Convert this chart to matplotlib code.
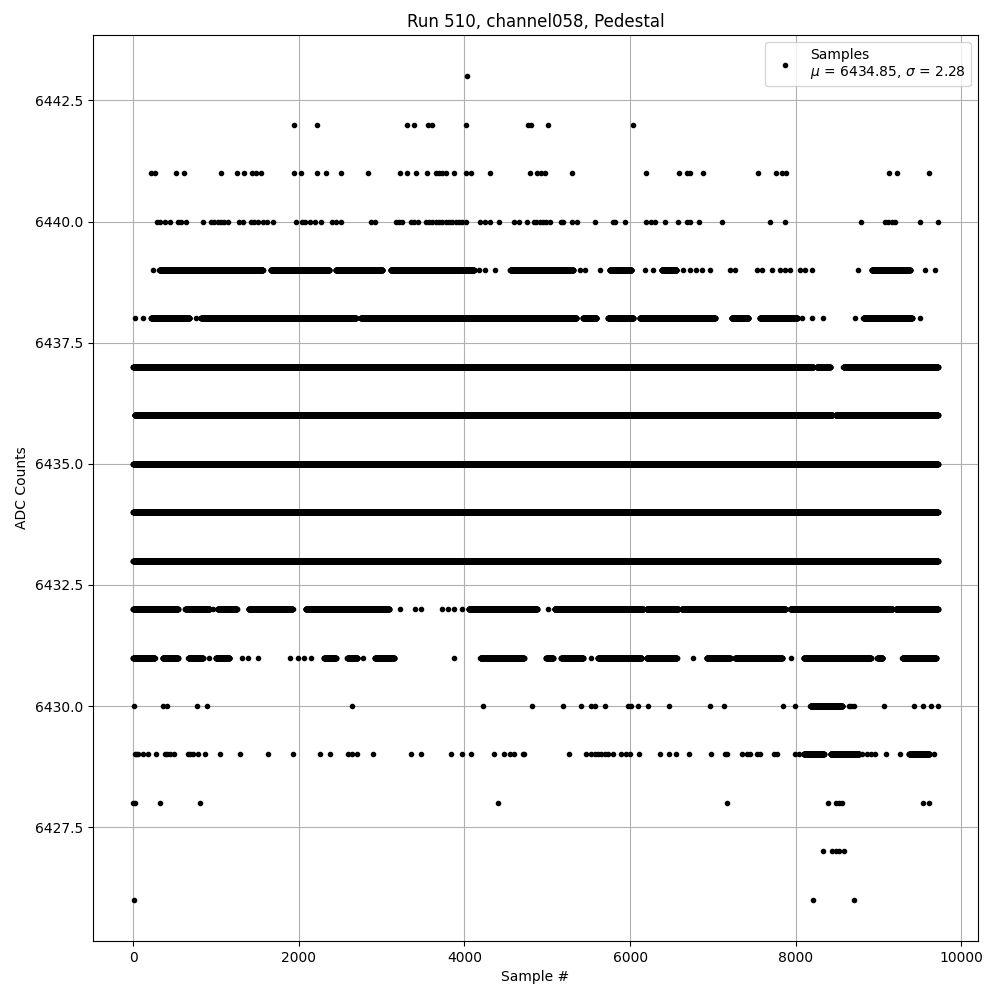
import numpy as np
import matplotlib
matplotlib.use("Agg")
import matplotlib.pyplot as plt

TITLE = "Run 510, channel058, Pedestal"
MU = 6434.85
SIGMA = 2.28
LAST_SAMPLE = 9715

# isolated samples per ADC level (sample numbers)
pts_6443 = [4025]
pts_6442 = [1936, 2217, 3309, 3390, 3562, 3610, 4024, 4767, 4800, 5009, 6036]
pts_6441 = [217, 265, 518, 618, 1060, 1249, 1341, 1434, 1482, 1542, 1936, 2024,
            2217, 2325, 2506, 2839, 3217, 3301, 3418, 3550, 3651, 3691, 3731,
            3771, 3879, 4024, 4084, 4313, 4787, 4872, 4929, 4968, 5299, 6193,
            6592, 6681, 6729, 6883, 7548, 7761, 7830, 7882, 9127, 9228, 9611]
pts_6440 = [285, 325, 378, 438, 538, 578, 639, 839, 940, 980, 1020, 1060, 1100,
            1141, 1281, 1321, 1422, 1462, 1510, 1570, 1610, 1683, 1964, 2036,
            2076, 2132, 2197, 2265, 2398, 2446, 2506, 2867, 2920, 3169, 3209,
            3249, 3349, 3390, 3442, 3530, 3570, 3610, 3651, 3691, 3731, 3771,
            3811, 3851, 3892, 3932, 3972, 4020, 4193, 4253, 4313, 4422, 4594,
            4654, 4755, 4835, 4867, 4908, 4948, 4988, 5029, 5170, 5190, 5299,
            5363, 5581, 5794, 5815, 5944, 6193, 6258, 6298, 6423, 6580, 6681,
            6729, 6834, 7112, 7693, 7874, 8789, 9079, 9119, 9160, 9200, 9502,
            9715]
pts_6439 = [237, 4173, 4253, 4373, 5391, 5452, 5633, 6177, 6278, 6640, 6721,
            6790, 6862, 6963, 7205, 7266, 7527, 7588, 7709, 7810, 7870, 7931,
            8052, 8113, 8193, 8750, 9562, 9683]
pts_6438 = [16, 116, 759, 8072, 8193, 8334, 8717, 9502]
pts_6432 = [968, 3217, 3402, 3470, 3723, 3803, 3871, 3972, 4824, 5006]
pts_6431 = [920, 1313, 1382, 1502, 1892, 1984, 2064, 2145, 2775, 3871, 5531,
            6755, 7947]
pts_6430 = [8, 357, 406, 771, 892, 2647, 4225, 4820, 5188, 5410, 5531, 5572,
            5693, 5976, 6016, 6097, 6218, 6473, 6966, 7139, 7842, 7988, 8642,
            8672, 8703, 9066, 9430, 9531, 9632, 9715]
pts_6429 = [16, 36, 56, 116, 177, 277, 378, 406, 438, 498, 659, 687, 719, 779,
            871, 1048, 1289, 1626, 1928, 2253, 2378, 2590, 2647, 2699, 2892,
            3349, 3470, 3839, 3964, 4084, 4353, 4482, 4546, 4602, 4703, 4723,
            5261, 5471, 5532, 5572, 5612, 5653, 5693, 5734, 5794, 5895, 5956,
            6004, 6105, 6360, 6473, 6553, 6715, 6978, 7147, 7168, 7357, 7410,
            7450, 7531, 7572, 7733, 7774, 7988, 8036, 8803, 8864, 8913, 8957,
            9087, 9260, 9664]
pts_6428 = [0, 16, 325, 807, 4409, 7164, 8388, 8481, 8521, 8562, 9531, 9612]
pts_6427 = [8327, 8440, 8481, 8521, 8582]
pts_6426 = [8, 8206, 8703]

# runs of sample numbers where a level is occupied densely (start, end)
runs_6439 = [(317, 1562), (1663, 2365), (2446, 3008), (3108, 4112),
             (4554, 5311), (5754, 6016), (6379, 6560), (8919, 9381)]
runs_6438 = [(217, 679), (819, 2687), (2747, 5351), (5432, 5593), (5734, 6036),
             (6117, 7024), (7225, 7427), (7568, 8016), (8818, 9402)]
runs_6437 = [(0, 8213), (8253, 8415), (8576, LAST_SAMPLE)]
runs_6436 = [(16, 8440), (8480, LAST_SAMPLE)]
runs_6435 = [(0, LAST_SAMPLE)]
runs_6434 = [(0, LAST_SAMPLE)]
runs_6433 = [(0, LAST_SAMPLE)]
runs_6432 = [(0, 538), (630, 920), (1020, 1249), (1394, 1924), (2084, 3088),
             (4052, 4875), (5087, 6158), (6198, 6582), (6622, 7875),
             (7935, 9167), (9208, LAST_SAMPLE)]
runs_6431 = [(0, 257), (357, 538), (667, 839), (1000, 1161), (2305, 2446),
             (2586, 2707), (2920, 3149), (4193, 4715), (4986, 5067),
             (5168, 5430), (5612, 6137), (6198, 6562), (6925, 7208),
             (7269, 7834), (8097, 8905), (8986, 9046), (9289, 9693)]
runs_6430 = [(8178, 8562)]
runs_6429 = [(8097, 8339), (8420, 8763), (9369, 9612)]

levels_points = {6443: pts_6443, 6442: pts_6442, 6441: pts_6441, 6440: pts_6440,
                 6439: pts_6439, 6438: pts_6438, 6432: pts_6432, 6431: pts_6431,
                 6430: pts_6430, 6429: pts_6429, 6428: pts_6428, 6427: pts_6427,
                 6426: pts_6426}
levels_runs = {6439: runs_6439, 6438: runs_6438, 6437: runs_6437,
               6436: runs_6436, 6435: runs_6435, 6434: runs_6434,
               6433: runs_6433, 6432: runs_6432, 6431: runs_6431,
               6430: runs_6430, 6429: runs_6429}

xs, ys = [], []
for lvl, pts in levels_points.items():
    xs.extend(pts)
    ys.extend([lvl] * len(pts))
for lvl, runs in levels_runs.items():
    for a, b in runs:
        r = np.arange(a, b + 1)
        xs.extend(r.tolist())
        ys.extend([lvl] * len(r))

fig, ax = plt.subplots(figsize=(10, 10), dpi=100)
ax.plot(xs, ys, '.', color='k', linestyle='none',
        label=f"Samples\n$\\mu$ = {MU:.2f}, $\\sigma$ = {SIGMA:.2f}")
ax.set_title(TITLE)
ax.set_xlabel("Sample #")
ax.set_ylabel("ADC Counts")
ax.grid(True)
ax.legend(loc='upper right')
fig.subplots_adjust(left=0.093, right=0.978, top=0.965, bottom=0.059)
fig.savefig("out.png", dpi=100)
